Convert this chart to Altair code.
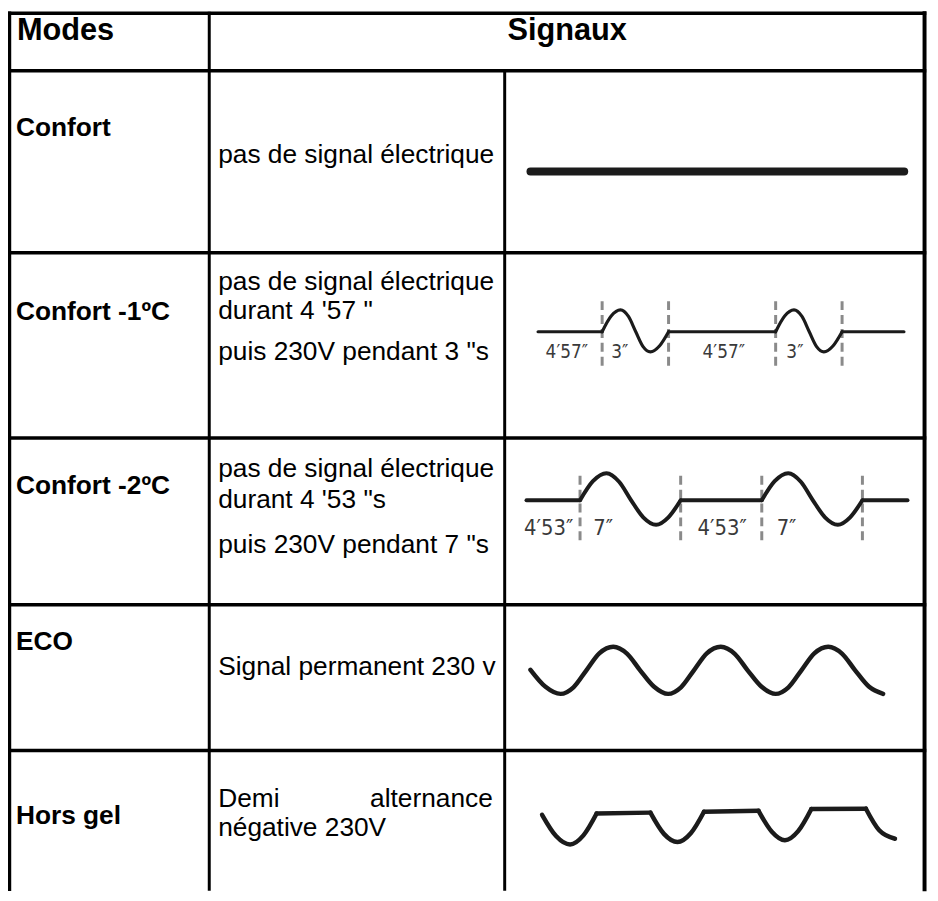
import altair as alt
import pandas as pd

# ---------------- texts ----------------
HEADER_MODES = "Modes"
HEADER_SIGNALS = "Signaux"
MODES = ["Confort", "Confort -1ºC", "Confort -2ºC", "ECO", "Hors gel"]
DESC_LINES = [
    "pas de signal électrique",
    "pas de signal électrique", "durant 4 '57 \"", "puis 230V pendant 3 \"s",
    "pas de signal électrique", "durant 4 '53 \"s", "puis 230V pendant 7 \"s",
    "Signal permanent 230 v",
    "Demi", "négative 230V",
]
DESC_RIGHT = ["alternance"]

# ---------------- signals (schematic time t, amplitude v) ----------------
# Confort : no signal, a flat thick line
CONF_T = [0.0, 1.0]
CONF_V = [0.0, 0.0]
CONF_SEG = [0, 0]

# Confort -1ºC : 4'57" off, then 3" of 230V
C1_T = [0.000, 0.964,
        0.964, 1.100, 1.240, 1.360, 1.470, 1.580, 1.690, 1.830, 1.964,
        1.964, 3.576,
        3.576, 3.712, 3.852, 3.972, 4.082, 4.192, 4.302, 4.442, 4.576,
        4.576, 5.507]
C1_V = [0.0, 0.0,
        0.0, 0.72, 1.00, 0.70, 0.00, -0.68, -0.92, -0.64, 0.0,
        0.0, 0.0,
        0.0, 0.72, 1.00, 0.70, 0.00, -0.68, -0.92, -0.64, 0.0,
        0.0, 0.0]
C1_SEG = [0, 0] + [1] * 9 + [2, 2] + [3] * 9 + [4, 4]
C1_MARK_T = [0.964, 1.964, 3.576, 4.576]
C1_MARK_TOP, C1_MARK_BOTTOM = 1.40, -1.65
C1_LABELS = ["4′57″", "3″", "4′57″", "3″"]
C1_LABEL_T = [0.433, 1.228, 2.796, 3.866]
C1_LABEL_V = -0.95

# Confort -2ºC : 4'53" off, then 7" of 230V
C2_T = [0.000, 0.532,
        0.532, 0.660, 0.795, 0.920, 1.040, 1.160, 1.288, 1.410, 1.532,
        1.532, 2.338,
        2.338, 2.466, 2.601, 2.726, 2.846, 2.966, 3.094, 3.216, 3.338,
        3.338, 3.786]
C2_V = [0.0, 0.0,
        0.0, 0.74, 1.05, 0.72, 0.00, -0.66, -0.95, -0.66, 0.0,
        0.0, 0.0,
        0.0, 0.74, 1.05, 0.72, 0.00, -0.66, -0.95, -0.66, 0.0,
        0.0, 0.0]
C2_SEG = [0, 0] + [1] * 9 + [2, 2] + [3] * 9 + [4, 4]
C2_MARK_T = [0.532, 1.532, 2.338, 3.338]
C2_MARK_TOP, C2_MARK_BOTTOM = 0.95, -1.74
C2_LABELS = ["4′53″", "7″", "4′53″", "7″"]
C2_LABEL_T = [0.22, 0.762, 1.944, 2.584]
C2_LABEL_V = -1.06

# ECO : permanent 230V sine
ECO_T = [0.00, 0.14, 0.28, 0.40, 0.52, 0.64, 0.77, 0.90, 1.02, 1.15, 1.28, 1.40, 1.52, 1.64,
         1.77, 1.90, 2.02, 2.15, 2.28, 2.40, 2.52, 2.64, 2.77, 2.90, 3.02, 3.15, 3.28]
ECO_V = [0.02, -0.70, -1.00, -0.72, 0.00, 0.72, 1.00, 0.70, 0.00, -0.70, -1.00, -0.72, 0.00, 0.72,
         1.00, 0.70, 0.00, -0.70, -1.00, -0.72, 0.00, 0.72, 1.00, 0.70, 0.00, -0.70, -1.00]
ECO_SEG = [0] * len(ECO_T)

# Hors gel : negative half-waves only
HG_T = [0.000, 0.130, 0.261, 0.385, 0.508,
        0.508, 1.009,
        1.009, 1.135, 1.261, 1.385, 1.508,
        1.508, 2.016,
        2.016, 2.140, 2.262, 2.385, 2.508,
        2.508, 3.016,
        3.016, 3.140, 3.287]
HG_V = [-0.04, -0.74, -1.02, -0.72, 0.00,
        0.00, 0.03,
        0.03, -0.67, -0.94, -0.65, 0.06,
        0.06, 0.09,
        0.09, -0.60, -0.88, -0.58, 0.15,
        0.15, 0.16,
        0.16, -0.55, -0.83]
HG_SEG = [0] * 5 + [1] * 2 + [2] * 5 + [3] * 2 + [4] * 5 + [5] * 2 + [6] * 3

# ---------------- layout (page pixels) ----------------
W, H = 930, 885
OX, OY = 8, 8
XL, XR, YT, YB = 9.5, 932.5, 9.5, OY + H
COL1, COL2 = 211, 509
ROW_LINES = [67.5, 251, 438, 606, 753]

HEADER_POS = [(17, 27.5), (572, 27.5)]
MODE_X = 16
MODE_Y = [125, 310.5, 486.5, 644, 819.5]
DESC_X = 220
DESC_Y = [153, 281, 310, 351, 469, 500, 546, 669, 802, 831]
DESC_RIGHT_POS = [(497, 802)]

SIG_LAYOUT = {
    "conf": dict(x=(535, 912), y=(179, 159), dom_y=[-1, 1], width=8),
    "c1": dict(x=(542.7, 911.7), y=(352.7, 308.7), dom_y=[-1, 1], width=3.2, label_size=19),
    "c2": dict(x=(531, 915.3), y=(526.7, 474.7), dom_y=[-1, 1], width=4, label_size=22),
    "eco": dict(x=(535, 890.7), y=(696, 648.4), dom_y=[-1, 1], width=4.5),
    "hg": dict(x=(546.7, 902.7), y=(847.3, 816.7), dom_y=[-1, 0], width=4.5),
}

FONT = "Liberation Sans, Arial, sans-serif"
NARROW = "Liberation Sans Narrow, DejaVu Sans Condensed, sans-serif"


def sx_page():
    return alt.Scale(domain=[OX, OX + W], range=[0, W], nice=False, zero=False)


def sy_page():
    return alt.Scale(domain=[OY, OY + H], range=[0, H], nice=False, zero=False)


# grid
g_rows = [
    (XL, XR, YT, YT, 3.5),
    (XL, XL, YT, YB, 3.5),
    (XR, XR, YT, YB, 4.0),
    (COL1, COL1, YT, YB, 3.0),
    (COL2, COL2, ROW_LINES[0], YB, 3.0),
] + [(XL, XR, y, y, 3.5) for y in ROW_LINES]
grid_df = pd.DataFrame(g_rows, columns=["x", "x2", "y", "y2", "w"])
grid = alt.Chart(grid_df).mark_rule(color="#000000", strokeCap="square").encode(
    x=alt.X("x:Q", scale=sx_page(), axis=None),
    x2="x2:Q",
    y=alt.Y("y:Q", scale=sy_page(), axis=None),
    y2="y2:Q",
    size=alt.Size("w:Q", scale=None, legend=None),
)


def text_layer(texts, xs, ys, align, weight, size):
    df = pd.DataFrame({"text": texts, "x": xs, "y": ys})
    return alt.Chart(df).mark_text(
        align=align, baseline="middle", font=FONT, fontWeight=weight,
        fontSize=size, color="#000000"
    ).encode(
        x=alt.X("x:Q", scale=sx_page(), axis=None),
        y=alt.Y("y:Q", scale=sy_page(), axis=None),
        text="text:N",
    )


t_head_l = text_layer([HEADER_MODES], [HEADER_POS[0][0]], [HEADER_POS[0][1]], "left", "bold", 31)
t_head_c = text_layer([HEADER_SIGNALS], [HEADER_POS[1][0]], [HEADER_POS[1][1]], "center", "bold", 31)
t_modes = text_layer(MODES, [MODE_X] * len(MODES), MODE_Y, "left", "bold", 26.5)
t_desc = text_layer(DESC_LINES, [DESC_X] * len(DESC_LINES), DESC_Y, "left", "normal", 26.5)
t_desc_r = text_layer(DESC_RIGHT, [p[0] for p in DESC_RIGHT_POS], [p[1] for p in DESC_RIGHT_POS],
                      "right", "normal", 26.5)


def signal(t, v, seg, lay, marks=None, labels=None):
    sx = alt.Scale(domain=[min(t), max(t)], range=[lay["x"][0] - OX, lay["x"][1] - OX],
                   nice=False, zero=False)
    sy = alt.Scale(domain=lay["dom_y"], range=[lay["y"][0] - OY, lay["y"][1] - OY],
                   nice=False, zero=False)
    layers = []
    if marks is not None:
        mt, top, bot = marks
        mdf = pd.DataFrame({"t": mt, "top": [top] * len(mt), "bot": [bot] * len(mt)})
        layers.append(
            alt.Chart(mdf).mark_rule(color="#8a8a8a", strokeWidth=3, strokeDash=[9, 5]).encode(
                x=alt.X("t:Q", scale=sx, axis=None),
                y=alt.Y("top:Q", scale=sy, axis=None),
                y2="bot:Q",
            )
        )
    df = pd.DataFrame({"t": t, "v": v, "seg": seg})
    layers.append(
        alt.Chart(df).mark_line(
            interpolate="monotone", color="#1b1b1b", strokeWidth=lay["width"],
            strokeCap="round", strokeJoin="round"
        ).encode(
            x=alt.X("t:Q", scale=sx, axis=None),
            y=alt.Y("v:Q", scale=sy, axis=None),
            detail="seg:N",
        )
    )
    if labels is not None:
        lt, lv, ltext = labels
        ldf = pd.DataFrame({"t": lt, "v": [lv] * len(lt), "text": ltext})
        layers.append(
            alt.Chart(ldf).mark_text(
                font=NARROW, fontSize=lay["label_size"], color="#3a3a3a",
                align="center", baseline="middle"
            ).encode(
                x=alt.X("t:Q", scale=sx, axis=None),
                y=alt.Y("v:Q", scale=sy, axis=None),
                text="text:N",
            )
        )
    return alt.layer(*layers)


s_conf = signal(CONF_T, CONF_V, CONF_SEG, SIG_LAYOUT["conf"])
s_c1 = signal(C1_T, C1_V, C1_SEG, SIG_LAYOUT["c1"],
              marks=(C1_MARK_T, C1_MARK_TOP, C1_MARK_BOTTOM),
              labels=(C1_LABEL_T, C1_LABEL_V, C1_LABELS))
s_c2 = signal(C2_T, C2_V, C2_SEG, SIG_LAYOUT["c2"],
              marks=(C2_MARK_T, C2_MARK_TOP, C2_MARK_BOTTOM),
              labels=(C2_LABEL_T, C2_LABEL_V, C2_LABELS))
s_eco = signal(ECO_T, ECO_V, ECO_SEG, SIG_LAYOUT["eco"])
s_hg = signal(HG_T, HG_V, HG_SEG, SIG_LAYOUT["hg"])

chart = alt.layer(
    grid, t_head_l, t_head_c, t_modes, t_desc, t_desc_r,
    s_conf, s_c1, s_c2, s_eco, s_hg,
).resolve_scale(
    x="independent", y="independent"
).properties(
    width=W, height=H, padding=0, autosize="none", background="white"
).configure_view(stroke=None)

chart.save("out.html", embed_options={"renderer": "svg", "actions": False})
